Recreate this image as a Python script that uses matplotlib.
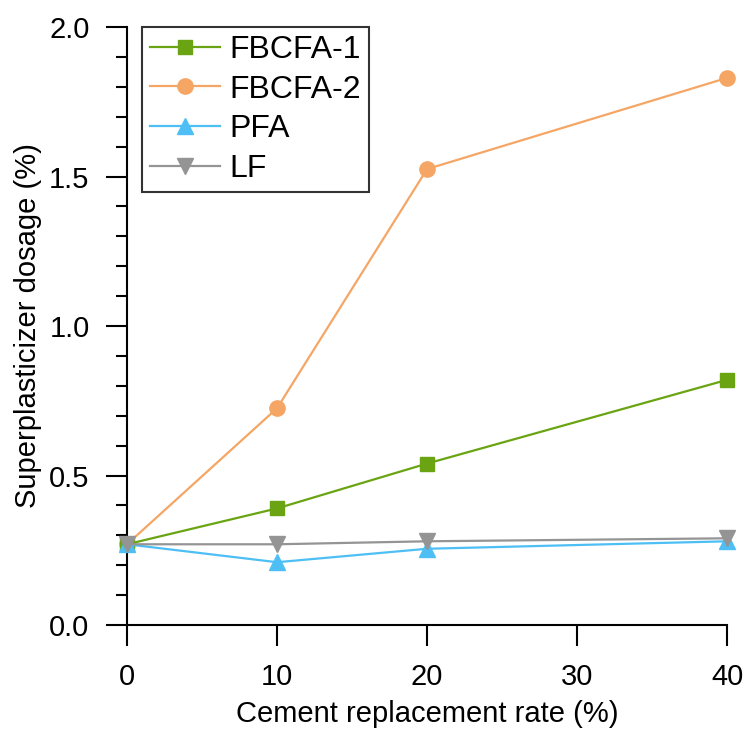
import matplotlib
matplotlib.use("Agg")
import matplotlib.pyplot as plt
from matplotlib.ticker import MultipleLocator

plt.rcParams['font.family'] = ['Liberation Sans', 'DejaVu Sans']

# replacement rate (%)
rate = [0, 10, 20, 40]

# superplasticizer dosage (%)
fbcfa1 = [0.27, 0.39, 0.54, 0.82]
fbcfa2 = [0.27, 0.725, 1.525, 1.83]
pfa = [0.27, 0.21, 0.255, 0.28]
lf = [0.27, 0.27, 0.28, 0.29]

fig = plt.figure(figsize=(7.45, 7.31), dpi=100)
ax = fig.add_axes([0.1705, 0.145, 0.8055, 0.818])

ax.plot(rate, fbcfa1, color='#6aa412', marker='s', markersize=10, linewidth=1.6, label='FBCFA-1', clip_on=False, zorder=4)
ax.plot(rate, fbcfa2, color='#f5a665', marker='o', markersize=11, linewidth=1.6, label='FBCFA-2', clip_on=False, zorder=3)
ax.plot(rate, pfa, color='#4dbff5', marker='^', markersize=11, linewidth=1.6, label='PFA', clip_on=False, zorder=5)
ax.plot(rate, lf, color='#949494', marker='v', markersize=11, linewidth=1.6, label='LF', clip_on=False, zorder=6)

ax.set_xlim(0, 40)
ax.set_ylim(0, 2.0)
ax.set_xticks([0, 10, 20, 30, 40])
ax.yaxis.set_major_locator(MultipleLocator(0.5))
ax.yaxis.set_minor_locator(MultipleLocator(0.1))
ax.yaxis.set_major_formatter(plt.FormatStrFormatter('%.1f'))

ax.spines['top'].set_visible(False)
ax.spines['right'].set_visible(False)
ax.spines['left'].set_linewidth(1.5)
ax.spines['bottom'].set_linewidth(1.5)

ax.tick_params(axis='both', which='major', direction='out', length=15, width=1.5, labelsize=21)
ax.tick_params(axis='y', which='major', pad=12)
ax.tick_params(axis='x', which='major', pad=12)
ax.tick_params(axis='y', which='minor', direction='out', length=8, width=1.5)

ax.set_xlabel('Cement replacement rate (%)', fontsize=21, labelpad=7)
ax.set_ylabel('Superplasticizer dosage (%)', fontsize=21, labelpad=5)

leg = ax.legend(loc='upper left', bbox_to_anchor=(0.025, 1.0), fontsize=23, frameon=True, fancybox=False,
                edgecolor='black', handlelength=2.2, handletextpad=0.3, labelspacing=0.3,
                borderpad=0.25, borderaxespad=0.0)
leg.get_frame().set_linewidth(1.5)

fig.savefig('out.png', dpi=100)
